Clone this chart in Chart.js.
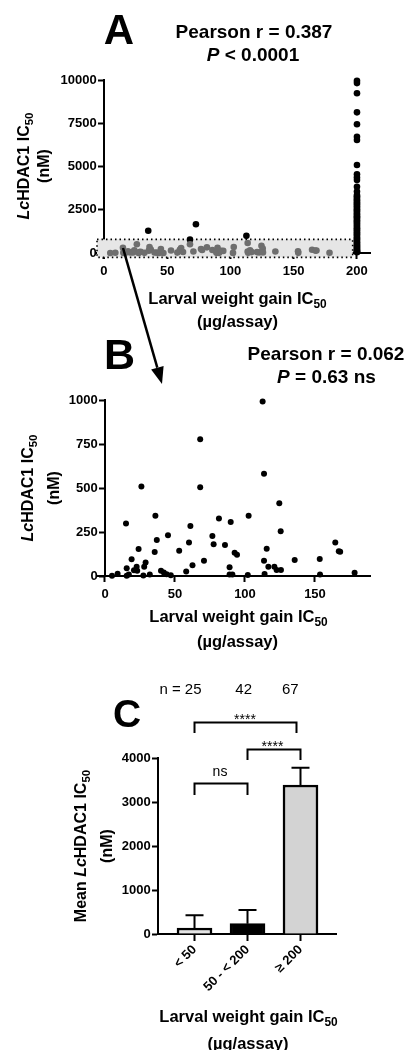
<!DOCTYPE html>
<html><head><meta charset="utf-8">
<script src="https://cdn.jsdelivr.net/npm/chart.js@4"></script>
<style>
html,body{margin:0;padding:0;background:#fff;}
body{width:406px;height:1050px;position:relative;overflow:hidden;font-family:"Liberation Sans",Arial,sans-serif;}
canvas{position:absolute;left:0;top:0;}
svg{position:absolute;left:0;top:0;}
.t{position:absolute;white-space:nowrap;font-weight:bold;color:#000;line-height:1;transform:translate(-50%,-50%);}
.r{transform:translate(-50%,-50%) rotate(-90deg);}
.n{font-weight:normal;}
.s{font-size:0.72em;position:relative;top:0.32em;}
</style></head><body>
<canvas id="cA" width="406" height="1050"></canvas>
<canvas id="cB" width="406" height="1050"></canvas>
<canvas id="cC" width="406" height="1050"></canvas>
<svg width="406" height="1050">
  <line x1="123" y1="248" x2="157.3" y2="367.7" stroke="#000" stroke-width="2.5"/>
  <polygon points="162,384 151.1,369.5 163.6,365.9" fill="#000"/>
</svg>
<div id="txt"></div>
<script>
// ---------- data ----------
// Panel B (and grey points of panel A): compounds with larval weight gain IC50 < 200
const lowX = [5,9,15,15.5,15.5,17,19,20.7,22.6,23,24,26,27.4,28,29,32,35.5,36,37,40,42,44,45,47,53,58,60,61,62.5,68,68,70.7,76.7,77.6,81.4,85.7,89,89,91,89.8,92.6,94.3,102,102.6,112.6,113.6,113.6,114,115.5,116.7,121,122.6,124.5,125.5,125.7,135.5,153.4,153.6,164.5,167,168,178.3];
const lowY = [2,13,299,2,44,8,95,32,53,30,153,508,3,53,76,8,136,343,205,30,20,10,231,4,144,25,191,284,61,777,504,87,227,180,326,176,50,8,8,307,132,121,6,343,991,581,87,12,155,53,53,34,413,254,34,91,97,8,190,140,138,19];
// Panel A only: points above the panel-B range
const extraX = [35, 72.7];
const extraY = [1290, 1665];
// Panel A: compounds with larval weight gain IC50 >= 200 (plotted at 200)
const highX = 200;
const highY = [9950,9820,9230,8130,7440,6720,6530,5090,4550,4370,4220,3830,3550,3350,3280,3190,3100,3020,2940,2850,2790,2700,2620,2530,2460,2380,2290,2210,2130,2060,1980,1900,1820,1740,1670,1590,1500,1430,1350,1280,1200,1120,1050,980,900,830,760,690,620,550,480,420,360,300,240,190,140,100,70,40];
const xTicksA = [0,50,100,150,200];
const yTicksA = [0,2500,5000,7500,10000];
const xTicksB = [0,50,100,150];
const yTicksB = [0,250,500,750,1000];
// Panel C
const groups = ['< 50','50 - < 200','\u2265 200'];
const means = [136,234,3386];
const errHi = [425,545,3780];
const yTicksC = [0,1000,2000,3000,4000];
const nCounts = [25,42,67];
const statsA = ['0.387','< 0.0001'];
const statsB = ['0.062','= 0.63  ns'];

// ---------- helpers ----------
const FONT = 'Liberation Sans';
const TF = {family:FONT, size:13, weight:'bold'};
function zeroFit(s){ if (s.isHorizontal()) s.height = 0; else s.width = 0; }
function setTicks(arr){ return s => { s.ticks = arr.map(v => ({value: v})); }; }
function grid(len){ return {display:true, drawOnChartArea:false, drawTicks:true, tickLength:len, tickWidth:2, tickColor:'#000', offset:false}; }
function axis(o){
  return Object.assign({
    type:'linear',
    grid:grid(5),
    border:{display:true, color:'#000', width:2},
    ticks:{color:'#000', padding:6, font:TF},
    afterFit: zeroFit
  }, o);
}
const yTickOpts = {color:'#000', font:TF, callback:v=>v+'  '};
function pad(l,t,r,b){ return {left:l, top:t, right:406-r, bottom:1050-b}; }
const base = {animation:false, responsive:false, events:[],
  plugins:{legend:{display:false}, tooltip:{enabled:false}}};

// ---------- Panel A ----------
const ptsA = lowX.map((x,i)=>({x, y:lowY[i]}))
  .concat(extraX.map((x,i)=>({x, y:extraY[i]})))
  .concat(highY.map(y=>({x:highX, y})));
const colA = ptsA.map(p => (p.x < 200 && p.y < 700) ? '#6e6e6e' : '#000');
const bandPlugin = {
  id:'band',
  beforeDatasetsDraw(ch){
    const xs = ch.scales.x, ys = ch.scales.y, c = ch.ctx;
    const x0 = xs.getPixelForValue(-5.5), x1 = xs.getPixelForValue(196.6);
    const y0 = ys.getPixelForValue(790), y1 = ys.getPixelForValue(-250);
    c.save();
    c.fillStyle = '#e6e6e6';
    c.fillRect(x0, y0, x1-x0, y1-y0);
    c.setLineDash([1.5,3]); c.lineWidth = 1.6; c.strokeStyle = '#000';
    c.strokeRect(x0, y0, x1-x0, y1-y0);
    c.restore();
  }
};
new Chart(document.getElementById('cA'), {
  type:'scatter',
  data:{datasets:[{data:ptsA, pointRadius:3.3, pointBorderWidth:0, pointBackgroundColor:colA, clip:false}]},
  options:Object.assign({}, base, {
    layout:{autoPadding:false, padding:pad(97,80,370,258.2)},
    scales:{
      x: axis({min:-5.5, max:210.3, position:{y:0}, afterBuildTicks:setTicks(xTicksA)}),
      y: axis({min:-300, max:10000, position:{x:0}, afterBuildTicks:setTicks(yTicksA), ticks:yTickOpts})
    }
  }),
  plugins:[bandPlugin]
});

// ---------- Panel B ----------
const ptsB = lowX.map((x,i)=>({x, y:lowY[i]}));
new Chart(document.getElementById('cB'), {
  type:'scatter',
  data:{datasets:[{data:ptsB, pointRadius:3, pointBorderWidth:0, pointBackgroundColor:'#000', clip:false}]},
  options:Object.assign({}, base, {
    layout:{autoPadding:false, padding:pad(96.6,400,370.7,576)},
    scales:{
      x: axis({min:-6, max:189.8, position:{y:0}, afterBuildTicks:setTicks(xTicksB)}),
      y: axis({min:0, max:1000, position:{x:0}, afterBuildTicks:setTicks(yTicksB), ticks:yTickOpts})
    }
  })
});

// ---------- Panel C ----------
const errPlugin = {
  id:'err',
  afterDatasetsDraw(ch){
    const xs = ch.scales.x, ys = ch.scales.y, c = ch.ctx;
    c.save(); c.strokeStyle = '#000'; c.lineWidth = 2;
    means.forEach((m,i)=>{
      const x = xs.getPixelForValue(i), yt = ys.getPixelForValue(errHi[i]), yb = ys.getPixelForValue(m);
      c.beginPath(); c.moveTo(x, yb); c.lineTo(x, yt);
      c.moveTo(x-9, yt); c.lineTo(x+9, yt); c.stroke();
    });
    // significance brackets: [from group, to group, top px, leg px]
    const br = [[0,2,722.5,733],[1,2,749.5,760],[0,1,783.5,795]];
    br.forEach(b=>{
      const xa = xs.getPixelForValue(b[0]), xb = xs.getPixelForValue(b[1]) - (b[1]===2 && b[0]===0 ? 4 : 0);
      c.beginPath(); c.moveTo(xa, b[3]); c.lineTo(xa, b[2]); c.lineTo(xb, b[2]); c.lineTo(xb, b[3]); c.stroke();
    });
    c.restore();
  }
};
new Chart(document.getElementById('cC'), {
  type:'bar',
  data:{datasets:[{data:means.map((m,i)=>({x:i, y:m})), backgroundColor:['#e4e4e4','#000','#d3d3d3'],
    borderColor:'#000', borderWidth:2.5, barThickness:35, borderSkipped:'start'}]},
  options:Object.assign({}, base, {
    layout:{autoPadding:false, padding:pad(158,758,336,934)},
    scales:{
      x: axis({min:-0.689, max:2.67, position:{y:0}, offset:false, afterBuildTicks:setTicks([0,1,2]),
        grid:grid(6),
        ticks:{color:'#000', padding:2, minRotation:45, maxRotation:45, autoSkip:false, font:TF, callback:v=>groups[v]}}),
      y: axis({min:0, max:4000, position:{x:-0.689}, afterBuildTicks:setTicks(yTicksC), ticks:yTickOpts})
    }
  }),
  plugins:[errPlugin]
});

// ---------- text ----------
const lw = 'Larval weight gain IC<span class="s">50</span>';
const yl = '<i>Lc</i>HDAC1 IC<span class="s">50</span>';
const T = [
  [119,30,42,'A'],
  [254,31,19,'Pearson r = '+statsA[0]],
  [253,53.5,19,'<i>P</i> '+statsA[1]],
  [237.5,298,16.5,lw],
  [237.5,320.5,16.5,'(\u00b5g/assay)'],
  [24,166,16,yl,'r'],
  [44,166,16,'(nM)','r'],
  [119.5,354,43,'B'],
  [326,352.5,19,'Pearson r = '+statsB[0]],
  [326.5,375.5,19,'<i>P</i> '+statsB[1]],
  [238.5,616,16.5,lw],
  [237.5,641,16.5,'(\u00b5g/assay)'],
  [27.5,488,16,yl,'r'],
  [54,488,16,'(nM)','r'],
  [127,713,39,'C'],
  [180.5,687.5,15,'n = '+nCounts[0],'n'],
  [243.7,687.5,15,String(nCounts[1]),'n'],
  [290.3,687.5,15,String(nCounts[2]),'n'],
  [245,719,14,'****','n'],
  [272.5,746,14,'****','n'],
  [220,771,14,'ns','n'],
  [81,846,16,'Mean '+yl,'r'],
  [107,846,16,'(nM)','r'],
  [248.5,1016,16.5,lw],
  [248,1043,16.5,'(\u00b5g/assay)']
];
const box = document.getElementById('txt');
T.forEach(t=>{
  const d = document.createElement('div');
  d.className = 't' + (t[4] ? ' ' + t[4] : '');
  d.style.left = t[0]+'px'; d.style.top = t[1]+'px'; d.style.fontSize = t[2]+'px';
  d.innerHTML = t[3];
  box.appendChild(d);
});
</script>
</body></html>
